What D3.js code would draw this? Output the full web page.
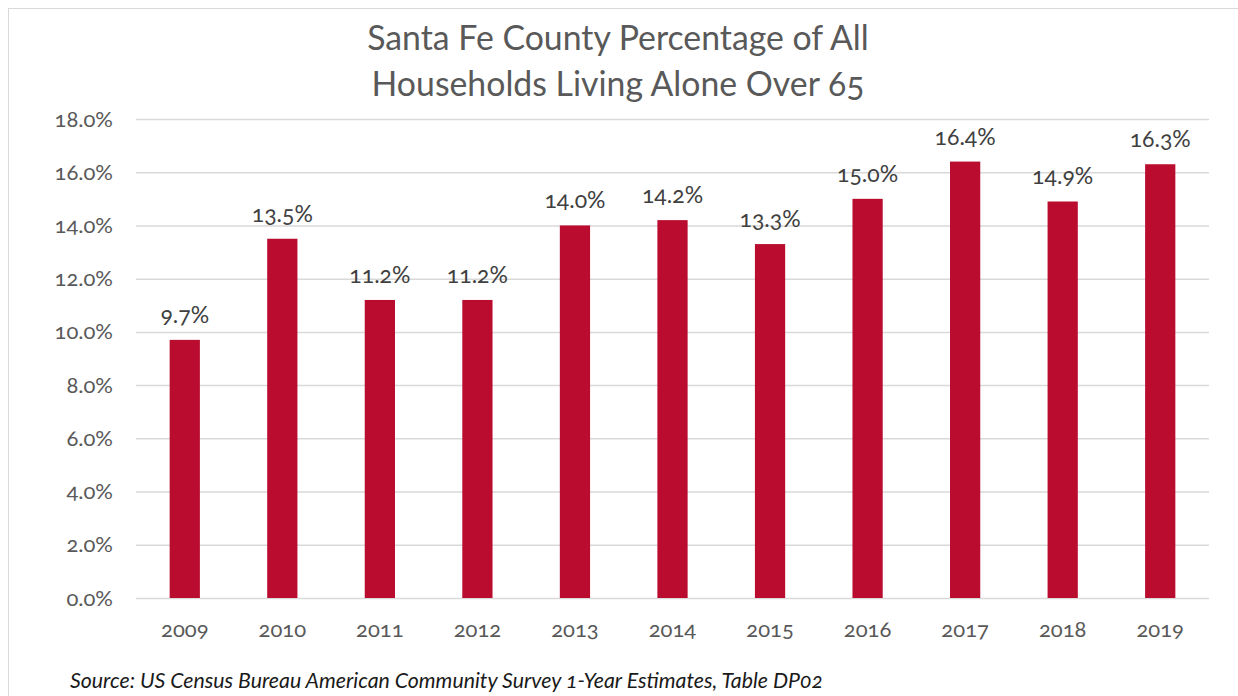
<!DOCTYPE html>
<html>
<head>
<meta charset="utf-8">
<script src="https://cdn.jsdelivr.net/npm/d3@7"></script>
<style>
  html, body { margin: 0; padding: 0; background: #fff; }
  svg { display: block; font-family: Lato, "Open Sans", sans-serif; font-variant-numeric: oldstyle-nums; }
</style>
</head>
<body>
<svg id="chart" width="1238" height="696"></svg>
<script>
const years = ["2009", "2010", "2011", "2012", "2013", "2014", "2015", "2016", "2017", "2018", "2019"];
const shares = [9.7, 13.5, 11.2, 11.2, 14.0, 14.2, 13.3, 15.0, 16.4, 14.9, 16.3];
const yTicks = [0, 2, 4, 6, 8, 10, 12, 14, 16, 18];
const titleLines = ["Santa Fe County Percentage of All", "Households Living Alone Over 65"];
const sourceNote = "Source: US Census Bureau American Community Survey 1-Year Estimates, Table DP02";

const svg = d3.select("#chart");
const W = 1238, H = 696;
const plot = { left: 136, right: 1209, top: 119, bottom: 598 };

// chart frame
svg.append("rect")
  .attr("x", 8.5).attr("y", 8.5)
  .attr("width", W + 10).attr("height", H + 10)
  .attr("fill", "#fff").attr("stroke", "#d9d9d9").attr("stroke-width", 1);

const x = d3.scaleBand().domain(years).range([plot.left, plot.right]).paddingInner(0.69).paddingOuter(0.345);
const y = d3.scaleLinear().domain([0, 18]).range([plot.bottom, plot.top]);

// horizontal gridlines + y labels
const yAxis = d3.axisLeft(y).tickValues(yTicks).tickFormat(d => d.toFixed(1) + "%")
  .tickSize(-(plot.right - plot.left)).tickPadding(23);
const gy = svg.append("g").attr("transform", `translate(${plot.left},0)`).call(yAxis);
gy.select(".domain").remove();
gy.selectAll(".tick line").attr("stroke", "#d9d9d9").attr("stroke-width", 1.5);
gy.selectAll(".tick text").attr("fill", "#595959").attr("font-size", 22).attr("font-family", "Lato, sans-serif");

// x labels
const xAxis = d3.axisBottom(x).tickSize(0).tickPadding(23);
const gx = svg.append("g").attr("transform", `translate(0,${plot.bottom})`).call(xAxis);
gx.select(".domain").remove();
gx.selectAll(".tick text").attr("fill", "#595959").attr("font-size", 22).attr("font-family", "Lato, sans-serif");

// bars
svg.append("g").selectAll("rect").data(shares).join("rect")
  .attr("x", (d, i) => x(years[i]))
  .attr("width", x.bandwidth())
  .attr("y", d => y(d))
  .attr("height", d => y(0) - y(d))
  .attr("fill", "#ba0c2f");

// value labels
svg.append("g").selectAll("text").data(shares).join("text")
  .attr("x", (d, i) => x(years[i]) + x.bandwidth() / 2)
  .attr("y", d => y(d) - 17)
  .attr("text-anchor", "middle")
  .attr("font-size", 23)
  .attr("fill", "#404040")
  .text(d => d.toFixed(1) + "%");

// title
svg.append("g").selectAll("text").data(titleLines).join("text")
  .attr("x", 618)
  .attr("y", (d, i) => 50 + i * 46)
  .attr("text-anchor", "middle")
  .attr("font-size", 33.8)
  .attr("fill", "#595959")
  .text(d => d);

// source note
svg.append("text")
  .attr("x", 70).attr("y", 688)
  .attr("font-size", 21.3)
  .attr("font-style", "italic")
  .attr("fill", "#1a1a1a")
  .text(sourceNote);
</script>
</body>
</html>
